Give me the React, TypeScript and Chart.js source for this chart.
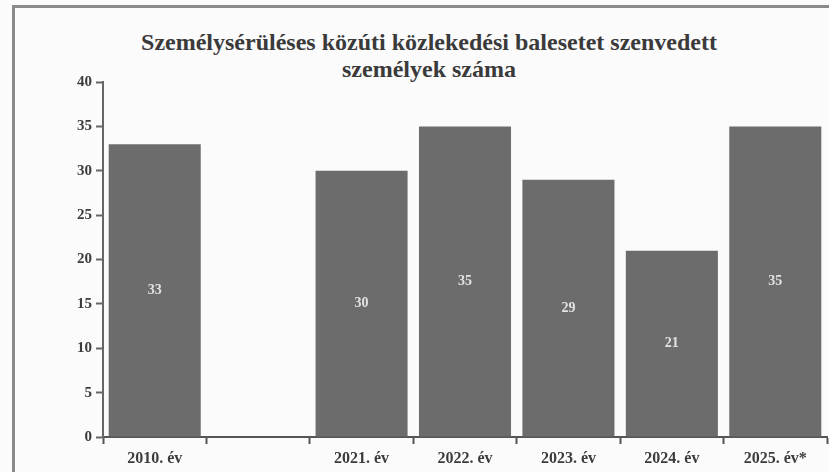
import React, { useEffect, useRef } from "react";
import { Chart, registerables } from "chart.js";

Chart.register(...registerables);

const categories = ["2010. év", "", "2021. év", "2022. év", "2023. év", "2024. év", "2025. év*"];
const injuredPersons: (number | null)[] = [33, null, 30, 35, 29, 21, 35];
const yTicks = [0, 5, 10, 15, 20, 25, 30, 35, 40];
const titleLines = ["Személysérüléses közúti közlekedési balesetet szenvedett", "személyek száma"];

const SERIF = "'Liberation Serif', 'Times New Roman', serif";

const valueLabels = {
  id: "valueLabels",
  afterDatasetsDraw(chart: any) {
    const ctx = chart.ctx;
    const meta = chart.getDatasetMeta(0);
    ctx.save();
    ctx.font = `bold 14px ${SERIF}`;
    ctx.fillStyle = "#e2e2e2";
    ctx.textAlign = "center";
    ctx.textBaseline = "middle";
    meta.data.forEach((bar: any, i: number) => {
      const v = injuredPersons[i];
      if (v == null) return;
      const { x, y, base } = bar.getProps(["x", "y", "base"], true);
      ctx.fillText(String(v), x, (y + base) / 2);
    });
    ctx.restore();
  },
};

export default function App() {
  const canvasRef = useRef<HTMLCanvasElement | null>(null);

  useEffect(() => {
    if (!canvasRef.current) return;
    const chart = new Chart(canvasRef.current, {
      type: "bar",
      data: {
        labels: categories,
        datasets: [
          {
            data: injuredPersons,
            backgroundColor: "#6c6c6c",
            borderWidth: 0,
            barPercentage: 0.89,
            categoryPercentage: 1,
          },
        ],
      },
      options: {
        responsive: false,
        animation: false,
        layout: { padding: { top: 82, left: 0, right: 2, bottom: 0 } },
        plugins: {
          legend: { display: false },
          tooltip: { enabled: false },
          title: { display: false },
        },
        scales: {
          x: {
            offset: true,
            grid: {
              offset: true,
              drawOnChartArea: false,
              drawTicks: true,
              tickLength: 7,
              tickColor: "#555",
              tickWidth: 2,
            },
            border: { display: true, color: "#555", width: 2 },
            ticks: {
              color: "#3c3c3c",
              padding: 5,
              font: { family: SERIF, weight: "bold", size: 16 },
              maxRotation: 0,
              autoSkip: false,
            },
            afterFit: (scale: any) => {
              scale.height = 35;
            },
          },
          y: {
            min: 0,
            max: 40,
            afterBuildTicks: (scale: any) => {
              scale.ticks = yTicks.map((v) => ({ value: v }));
            },
            grid: {
              drawOnChartArea: false,
              drawTicks: true,
              tickLength: 7,
              tickColor: "#666",
              tickWidth: 2,
            },
            border: { display: true, color: "#666", width: 2 },
            ticks: {
              color: "#3c3c3c",
              padding: 4,
              font: { family: SERIF, weight: "bold", size: 15 },
            },
            afterFit: (scale: any) => {
              scale.width = 103;
            },
          },
        },
      },
      plugins: [valueLabels],
    } as any);
    return () => chart.destroy();
  }, []);

  return (
    <div
      style={{
        position: "fixed",
        left: 0,
        top: 0,
        width: 829,
        height: 472,
        overflow: "hidden",
        background: "#fbfbfb",
      }}
    >
      <div
        style={{
          position: "absolute",
          left: 12,
          top: 5,
          width: 900,
          height: 600,
          border: "3px solid #8a8a8a",
          boxSizing: "border-box",
        }}
      />
      <div
        style={{
          position: "absolute",
          left: 79,
          width: 700,
          top: 29,
          textAlign: "center",
          fontFamily: SERIF,
          fontWeight: "bold",
          fontSize: 24,
          lineHeight: "27px",
          color: "#3a3a3a",
        }}
      >
        {titleLines.map((l, i) => (
          <div key={i}>{l}</div>
        ))}
      </div>
      <canvas
        ref={canvasRef}
        width={829}
        height={472}
        style={{ position: "absolute", left: 0, top: 0 }}
      />
    </div>
  );
}
